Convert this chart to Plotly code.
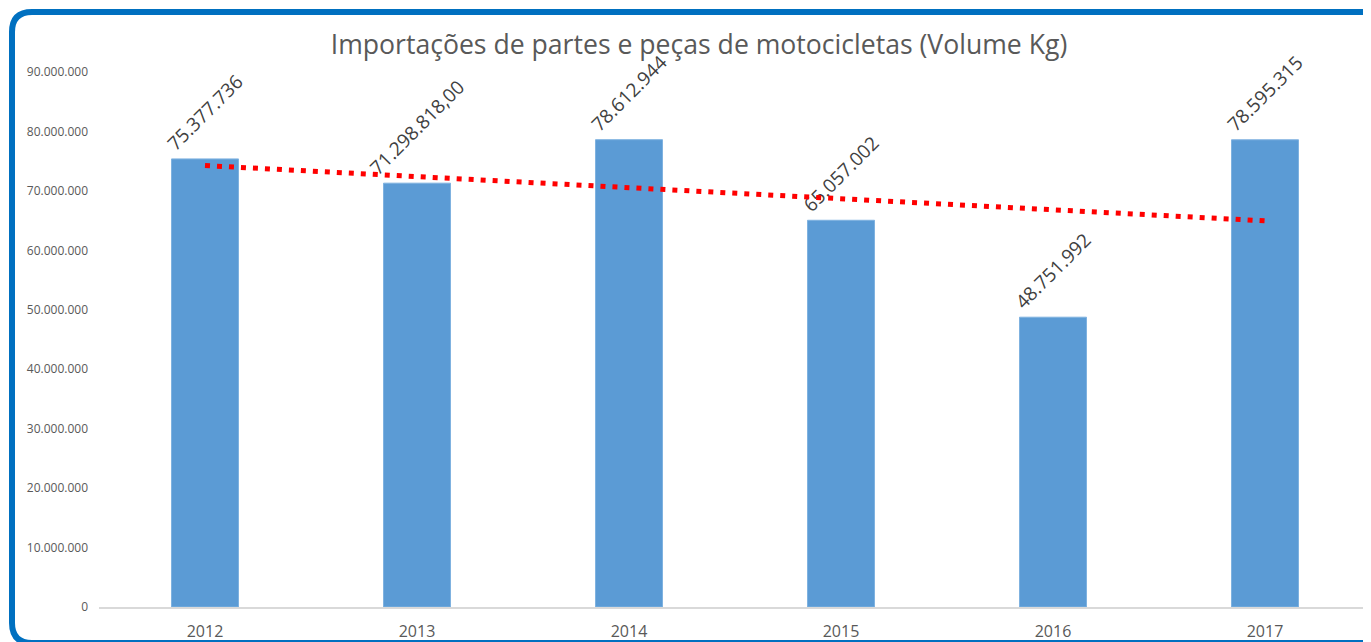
import numpy as np
import plotly.graph_objects as go

years = ["2012", "2013", "2014", "2015", "2016", "2017"]
volumes = [75377736, 71298818, 78612944, 65057002, 48751992, 78595315]
value_labels = ["75.377.736", "71.298.818,00", "78.612.944", "65.057.002", "48.751.992", "78.595.315"]
title_text = "Importações de partes e peças de motocicletas (Volume Kg)"

# page offset (browser body margin) compensation
OFF = 8
W, H = 1371 - OFF, 642 - OFF
ml, mr, mt, mb = 99 - OFF, 0, 72 - OFF, 35
pw, ph = W - ml - mr, H - mt - mb

# linear trendline (least squares on category index), like Excel's linear trendline
idx = np.arange(len(volumes))
slope, intercept = np.polyfit(idx, volumes, 1)
trend_x = [years[0], years[-1]]
trend_y = [intercept + slope * idx[0], intercept + slope * idx[-1]]

fig = go.Figure()
fig.add_trace(go.Bar(
    x=years, y=volumes,
    marker=dict(color="#5B9BD5", line=dict(color="#7FB2E0", width=1)),
    text=value_labels, textposition="outside", textangle=-45,
    constraintext="none", cliponaxis=False,
    textfont=dict(family="Open Sans", size=19, color="#404040"),
    hoverinfo="x+y",
))
fig.add_trace(go.Scatter(
    x=trend_x, y=trend_y, mode="lines",
    line=dict(color="#FF0000", width=5, dash="5px,7px"),
    hoverinfo="skip", cliponaxis=False,
))

# rounded blue frame (paper coords), given in page pixels
def px(x):
    return (x - OFF - ml) / pw

def py(y):
    return (H - mb - (y - OFF)) / ph

L, T, R, B, r = 12, 12, 1385, 643, 20
path = (f"M {px(L)},{py(T + r)} Q {px(L)},{py(T)} {px(L + r)},{py(T)} "
        f"L {px(R - r)},{py(T)} Q {px(R)},{py(T)} {px(R)},{py(T + r)} "
        f"L {px(R)},{py(B - r)} Q {px(R)},{py(B)} {px(R - r)},{py(B)} "
        f"L {px(L + r)},{py(B)} Q {px(L)},{py(B)} {px(L)},{py(B - r)} Z")
fig.add_shape(type="path", path=path, xref="paper", yref="paper",
              line=dict(color="#0070C0", width=6), layer="above")

fig.update_layout(
    width=W, height=H,
    margin=dict(l=ml, r=mr, t=mt, b=mb),
    paper_bgcolor="white", plot_bgcolor="white",
    separators=",.",
    showlegend=False,
    bargap=0.684,
    title=dict(text=title_text, x=(699 - OFF) / W, xanchor="center", xref="container",
               y=1 - (45 - OFF) / H, yanchor="middle", yref="container",
               font=dict(family="Open Sans", size=26.6, color="#595959")),
    font=dict(family="Open Sans", color="#595959"),
    xaxis=dict(showline=True, linecolor="#D9D9D9", linewidth=1.5,
               ticks="", tickfont=dict(size=16, color="#595959"), showgrid=False,
               ticklabelstandoff=9, automargin=False),
    yaxis=dict(range=[0, 90000000], dtick=10000000, tickformat=",.0f",
               showgrid=False, zeroline=False, showline=False, ticks="",
               ticklabelstandoff=10, automargin=False,
               tickfont=dict(size=12, color="#595959")),
)

fig.write_html("out.html")
